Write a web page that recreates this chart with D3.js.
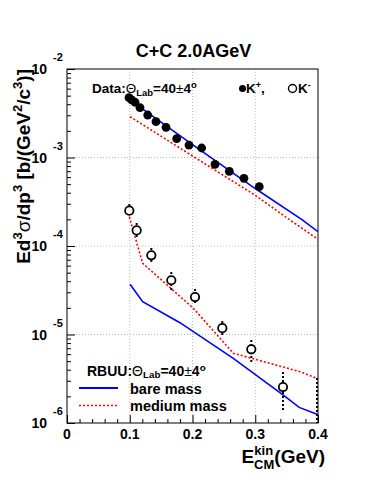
<!DOCTYPE html>
<html><head><meta charset="utf-8">
<script src="https://cdn.jsdelivr.net/npm/d3@7"></script>
<style>
html,body{margin:0;padding:0;background:#fff;}
text{font-family:"Liberation Sans",Arial,Helvetica,sans-serif;font-weight:bold;fill:#000;}
</style></head>
<body><svg id="c" width="382" height="494"></svg>
<script>
// ---- data ----
const titleText = "C+C 2.0AGeV";
const xTicks = [0, 0.1, 0.2, 0.3, 0.4];
const xTickLabels = ["0", "0.1", "0.2", "0.3", "0.4"];
const yDecades = [-2, -3, -4, -5, -6];

// K+ data (filled circles)
const kplusE = [0.0988, 0.103, 0.1084, 0.1163, 0.1286, 0.1418, 0.1578, 0.1748, 0.1944, 0.2146, 0.2359, 0.2587, 0.282, 0.3064];
const kplusV = [4.74e-3, 4.47e-3, 4.21e-3, 3.66e-3, 3.02e-3, 2.54e-3, 2.19e-3, 1.63e-3, 1.38e-3, 1.28e-3, 8.37e-4, 6.98e-4, 5.82e-4, 4.68e-4];

// K- data (open circles) with error ranges
const kminusE  = [0.0993, 0.111, 0.1344, 0.1662, 0.204, 0.2475, 0.2937, 0.3442];
const kminusV  = [2.51e-4, 1.50e-4, 7.85e-5, 4.10e-5, 2.65e-5, 1.18e-5, 6.80e-6, 2.55e-6];
const kminusHi = [2.99e-4, 1.82e-4, 9.48e-5, 5.08e-5, 3.27e-5, 1.42e-5, 8.67e-6, 3.77e-6];
const kminusLo = [2.18e-4, 1.26e-4, 6.59e-5, 3.02e-5, 2.15e-5, 9.62e-6, 4.77e-6, 1.40e-6];
// error bar of a K- point lying below the frame at E = 0.4
const clippedErrE = [0.4];
const clippedErrHi = [3.22e-6];
const clippedErrLo = [1.0e-6];

// RBUU bare mass (blue)
const bareKpE = [0.1, 0.2, 0.3, 0.375, 0.4];
const bareKpV = [4.47e-3, 1.40e-3, 4.46e-4, 1.97e-4, 1.45e-4];
const bareKmE = [0.1004, 0.1206, 0.180, 0.265, 0.3447, 0.370, 0.3995];
const bareKmV = [3.69e-5, 2.35e-5, 1.36e-5, 5.38e-6, 2.07e-6, 1.50e-6, 1.25e-6];

// RBUU medium mass (red dotted)
const medKpE = [0.1004, 0.2, 0.3, 0.35, 0.4];
const medKpV = [2.89e-3, 1.04e-3, 3.74e-4, 2.09e-4, 1.19e-4];
const medKmE = [0.0993, 0.1206, 0.2013, 0.265, 0.3713, 0.398];
const medKmV = [2.14e-4, 6.38e-5, 1.98e-5, 6.14e-6, 3.80e-6, 3.20e-6];

// ---- layout ----
const L = 67, R = 318, T = 69, B = 423;
const svg = d3.select("#c");
const x = d3.scaleLinear().domain([0, 0.4]).range([L, R]);
const y = d3.scaleLog().domain([1e-6, 1e-2]).range([B, T]);

svg.append("defs").append("clipPath").attr("id", "clip")
  .append("rect").attr("x", L).attr("y", T).attr("width", R - L).attr("height", B - T);

// grid
const g = svg.append("g");
[0.1, 0.2, 0.3].forEach(v => g.append("line").attr("x1", x(v)).attr("x2", x(v)).attr("y1", T).attr("y2", B)
  .attr("stroke", "#bbb").attr("stroke-width", 1).attr("stroke-dasharray", "1,2"));
[1e-3, 1e-4, 1e-5].forEach(v => g.append("line").attr("x1", L).attr("x2", R).attr("y1", y(v)).attr("y2", y(v))
  .attr("stroke", "#bbb").attr("stroke-width", 1).attr("stroke-dasharray", "1,2"));

// axes ticks (inside)
const xAxis = d3.axisTop(x).tickValues(d3.range(0, 0.4001, 0.02)).tickSize(4).tickFormat("");
const xa = svg.append("g").attr("transform", `translate(0,${B})`).call(xAxis);
xa.select(".domain").remove();
xa.selectAll(".tick line").attr("stroke", "#000").attr("y2", (d) => Math.abs((d * 10) - Math.round(d * 10)) < 1e-6 ? -8 : -4);

const minorY = [];
for (let e = -6; e < -2; e++) for (let m = 1; m < 10; m++) minorY.push(m * Math.pow(10, e));
minorY.push(1e-2);
const yAxis = d3.axisRight(y).tickValues(minorY).tickSize(4).tickFormat("");
const ya = svg.append("g").attr("transform", `translate(${L},0)`).call(yAxis);
ya.select(".domain").remove();
ya.selectAll(".tick line").attr("stroke", "#000").attr("x2", d => {
  const l = Math.log10(d); return Math.abs(l - Math.round(l)) < 1e-6 ? 8 : 4; });

// frame
svg.append("rect").attr("x", L).attr("y", T).attr("width", R - L).attr("height", B - T)
  .attr("fill", "none").attr("stroke", "#000").attr("stroke-width", 1);

// tick labels
xTicks.forEach((v, i) => svg.append("text").attr("x", x(v)).attr("y", 439).attr("text-anchor", "middle")
  .attr("font-size", 14).text(xTickLabels[i]));
yDecades.forEach(e => {
  const yy = y(Math.pow(10, e));
  svg.append("text").attr("x", 47).attr("y", yy + 5).attr("text-anchor", "end").attr("font-size", 14).text("10");
  svg.append("text").attr("x", 53).attr("y", yy - 8).attr("font-size", 11).text(String(e));
});

// lines
const lineGen = d3.line().x(d => x(d[0])).y(d => y(d[1]));
const plot = svg.append("g").attr("clip-path", "url(#clip)");
function drawLine(E, V, color, dash) {
  plot.append("path").datum(E.map((e, i) => [e, V[i]])).attr("d", lineGen)
    .attr("fill", "none").attr("stroke", color).attr("stroke-width", 1.6)
    .attr("stroke-dasharray", dash || null);
}
drawLine(medKpE, medKpV, "#ff0000", "2,2");
drawLine(medKmE, medKmV, "#ff0000", "2,2");
drawLine(bareKpE, bareKpV, "#0000ff");
drawLine(bareKmE, bareKmV, "#0000ff");

// error bars
kminusE.forEach((e, i) => plot.append("line").attr("x1", x(e)).attr("x2", x(e))
  .attr("y1", y(kminusHi[i])).attr("y2", y(kminusLo[i]))
  .attr("stroke", "#000").attr("stroke-width", 2).attr("stroke-dasharray", "2,2"));
clippedErrE.forEach((e, i) => plot.append("line").attr("x1", x(e) - 1).attr("x2", x(e) - 1)
  .attr("y1", y(clippedErrHi[i])).attr("y2", y(clippedErrLo[i]))
  .attr("stroke", "#000").attr("stroke-width", 2).attr("stroke-dasharray", "2,2"));

// markers
kplusE.forEach((e, i) => plot.append("circle").attr("cx", x(e)).attr("cy", y(kplusV[i])).attr("r", 4.4).attr("fill", "#000"));
kminusE.forEach((e, i) => plot.append("circle").attr("cx", x(e)).attr("cy", y(kminusV[i])).attr("r", 4.2)
  .attr("fill", "#fff").attr("stroke", "#000").attr("stroke-width", 1.8));

// title
svg.append("text").attr("x", 193.5).attr("y", 57).attr("text-anchor", "middle").attr("font-size", 18).text(titleText);

// data legend
function thetaLab(t, sz, sub) {
  t.append("tspan").style("font-weight", "normal").text("Θ");
  t.append("tspan").attr("font-size", sz * 0.7).attr("dy", sub).text("Lab");
  t.append("tspan").attr("dy", -sub).text("=40");
  t.append("tspan").style("font-weight", "normal").text("±");
  t.append("tspan").text("4");
  t.append("tspan").attr("font-size", sz * 0.7).attr("dy", -5).text("o");
}
const t1 = svg.append("text").attr("x", 92).attr("y", 93).attr("font-size", 13.5);
t1.append("tspan").text("Data:");
thetaLab(t1, 13.5, 3);
svg.append("circle").attr("cx", 242.5).attr("cy", 88.5).attr("r", 3.5).attr("fill", "#000");
const t2 = svg.append("text").attr("x", 246).attr("y", 93).attr("font-size", 13.5);
t2.append("tspan").text("K");
t2.append("tspan").attr("font-size", 9).attr("dy", -5).text("+");
t2.append("tspan").attr("dy", 5).text(",");
svg.append("circle").attr("cx", 292.5).attr("cy", 88.5).attr("r", 4).attr("fill", "none").attr("stroke", "#000").attr("stroke-width", 1.4);
const t3 = svg.append("text").attr("x", 298).attr("y", 93).attr("font-size", 13.5);
t3.append("tspan").text("K");
t3.append("tspan").attr("font-size", 9).attr("dy", -5).text("-");

// model legend
const t4 = svg.append("text").attr("x", 87).attr("y", 376).attr("font-size", 14);
t4.append("tspan").text("RBUU:");
thetaLab(t4, 14, 2);
svg.append("line").attr("x1", 79).attr("x2", 118).attr("y1", 388).attr("y2", 388).attr("stroke", "#0000ff").attr("stroke-width", 1.8);
svg.append("text").attr("x", 130).attr("y", 393.5).attr("font-size", 14.5).text("bare mass");
svg.append("line").attr("x1", 79).attr("x2", 118).attr("y1", 405.5).attr("y2", 405.5).attr("stroke", "#ff0000").attr("stroke-width", 1.4).attr("stroke-dasharray", "2,2");
svg.append("text").attr("x", 130).attr("y", 410.5).attr("font-size", 14.5).text("medium mass");

// x title
const xt = svg.append("text").attr("x", 325).attr("y", 463).attr("text-anchor", "end").attr("font-size", 19);
xt.append("tspan").text("E");
xt.append("tspan").attr("font-size", 13).attr("dy", -8).text("kin");
xt.append("tspan").attr("font-size", 13).attr("dx", -19).attr("dy", 14).text("CM");
xt.append("tspan").attr("dy", -6).text("(GeV)");

// y title
const yt = svg.append("text").attr("transform", "translate(30,69) rotate(-90)").attr("text-anchor", "end").attr("font-size", 19);
yt.append("tspan").text("Ed");
yt.append("tspan").attr("font-size", 13).attr("dy", -8).text("3");
yt.append("tspan").attr("dy", 8).style("font-weight", "normal").text("σ");
yt.append("tspan").text("/dp");
yt.append("tspan").attr("font-size", 13).attr("dy", -8).text("3");
yt.append("tspan").attr("dy", 8).text(" [b/(GeV");
yt.append("tspan").attr("font-size", 13).attr("dy", -8).text("2");
yt.append("tspan").attr("dy", 8).text("/c");
yt.append("tspan").attr("font-size", 13).attr("dy", -8).text("3");
yt.append("tspan").attr("dy", 8).text(")]");
</script></body></html>
